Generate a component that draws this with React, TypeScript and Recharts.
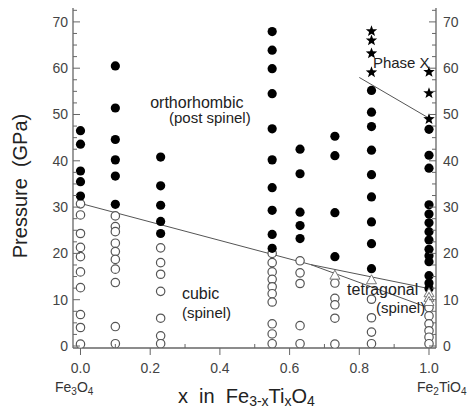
import { ScatterChart, Scatter, XAxis, YAxis, ReferenceLine } from "recharts"

const FONT = "Liberation Sans, Arial, Helvetica, sans-serif"

// composition columns (x in Fe3-xTixO4)
const columns = [0, 0.1, 0.23, 0.55, 0.63, 0.73, 0.835, 1.0]

// pressures (GPa) per column
const orthorhombic = [
  [46.5, 43.6, 37.8, 35.5, 32.4],
  [60.5, 51.4, 44.6, 40.2, 36.7, 30.6],
  [40.8, 34.6, 30.4, 26.9, 24.3],
  [67.9, 63.9, 59.9, 54.5, 46.9, 40.2, 34.2, 29.3, 24.1, 21.1],
  [42.5, 37.2, 28.9, 26.0, 23.2],
  [45.3, 41.1, 28.8, 19.3],
  [55.2, 50.5, 47.4, 42.3, 37.0, 32.2, 26.8, 22.1, 16.7],
  [46.8, 41.2, 38.4, 30.5, 28.5, 26.6, 24.7, 22.9, 20.9, 19.5, 18.2, 15.2, 13.6, 12.4],
]

const cubic = [
  [30.7, 28.3, 24.3, 21.3, 19.3, 16.0, 12.6, 6.8, 4.0, 0.4],
  [28.1, 25.8, 24.7, 22.2, 20.4, 18.7, 16.6, 13.7, 4.2, 0.5],
  [21.2, 18.0, 15.5, 11.8, 6.0, 2.2, 0.5],
  [20.0, 18.0, 16.0, 14.4, 12.8, 11.3, 9.5, 4.8, 2.6, 0.5],
  [18.4, 15.8, 13.5, 4.4, 0.5],
  [13.6, 10.3, 8.9, 6.0, 0.4],
  [10.1, 6.1, 3.0, 0.5],
  [8.3, 6.5, 4.8, 3.3, 1.9, 0.5],
]

const tetragonal = [[], [], [], [], [], [15.2], [14.2], [11.4, 10.4, 9.5]]

const phaseX = [[], [], [], [], [], [], [68.0, 66.0, 63.2, 59.1], [59.2, 54.6, 49.0]]

// phase boundaries [x, P]
const boundaryUpper = [[0, 30.8], [0.66, 17.6], [1.0, 12.4]]
const boundaryLower = [[0.66, 17.6], [1.0, 8.2]]
const boundaryPhaseX = [[0.8, 58.0], [1.0, 49.2]]

const annotations = [
  { x: 0.2, p: 51.4, text: "orthorhombic", size: 16 },
  { x: 0.254, p: 48.1, text: "(post spinel)", size: 15 },
  { x: 0.291, p: 10.2, text: "cubic", size: 16 },
  { x: 0.291, p: 6.0, text: "(spinel)", size: 15 },
  { x: 0.839, p: 60.0, text: "Phase X", size: 15 },
  { x: 0.765, p: 11.0, text: "tetragonal", size: 16 },
  { x: 0.848, p: 7.1, text: "(spinel)", size: 15 },
]

const xTicks = [0, 0.1, 0.2, 0.3, 0.4, 0.5, 0.6, 0.7, 0.8, 0.9, 1.0]
const yTicks = [
  0, 2.5, 5, 7.5, 10, 12.5, 15, 17.5, 20, 22.5, 25, 27.5, 30, 32.5, 35, 37.5,
  40, 42.5, 45, 47.5, 50, 52.5, 55, 57.5, 60, 62.5, 65, 67.5, 70, 72.5,
]

const toPoints = (cols: number[][]) =>
  cols.flatMap((ps, i) => ps.map((p) => ({ x: columns[i], p })))

const segs = (pts: number[][]) =>
  pts.slice(1).map((pt, i) => [
    { x: pts[i][0], y: pts[i][1] },
    { x: pt[0], y: pt[1] },
  ])

const AXIS = "#666"

function FilledDot(props: any) {
  return <circle cx={props.cx} cy={props.cy} r={4.6} fill="#000" />
}

function OpenDot(props: any) {
  return <circle cx={props.cx} cy={props.cy} r={4.2} fill="#fff" stroke="#555" strokeWidth={1.2} />
}

function Triangle(props: any) {
  const { cx, cy } = props
  return (
    <polygon
      points={`${cx},${cy - 5.5} ${cx - 5},${cy + 3.5} ${cx + 5},${cy + 3.5}`}
      fill="#fff"
      stroke="#777"
      strokeWidth={1}
    />
  )
}

function Star(props: any) {
  const { cx, cy } = props
  const pts: string[] = []
  for (let i = 0; i < 10; i++) {
    const r = i % 2 === 0 ? 6 : 2.5
    const a = -Math.PI / 2 + (i * Math.PI) / 5
    pts.push(`${cx + r * Math.cos(a)},${cy + r * Math.sin(a)}`)
  }
  return <polygon points={pts.join(" ")} fill="#000" />
}

function Note(props: any) {
  const d = props.payload || props
  return (
    <text x={props.cx} y={props.cy} fontSize={d.size} fill="#222" fontFamily={FONT}>
      {d.text}
    </text>
  )
}

function LeftTick(props: any) {
  const { x, y, payload } = props
  const major = payload.value % 10 === 0
  return (
    <g>
      <line x1={x} x2={x + (major ? 7 : 4)} y1={y} y2={y} stroke={AXIS} />
      {major && (
        <text x={x - 5} y={y + 5} textAnchor="end" fontSize={14} fill="#444" fontFamily={FONT}>
          {payload.value}
        </text>
      )}
    </g>
  )
}

function RightTick(props: any) {
  const { x, y, payload } = props
  const major = payload.value % 10 === 0
  return (
    <g>
      <line x1={x} x2={x - (major ? 7 : 4)} y1={y} y2={y} stroke={AXIS} />
      {major && (
        <text x={x + 7} y={y + 5} textAnchor="start" fontSize={14} fill="#444" fontFamily={FONT}>
          {payload.value}
        </text>
      )}
    </g>
  )
}

function BottomTick(props: any) {
  const { x, y, payload } = props
  const major = Math.round(payload.value * 10) % 2 === 0
  return (
    <g>
      <line x1={x} x2={x} y1={y} y2={major ? y + 7 : y - 4} stroke={AXIS} />
      {major && (
        <text x={x} y={y + 25} textAnchor="middle" fontSize={14} fill="#444" fontFamily={FONT}>
          {payload.value.toFixed(1)}
        </text>
      )}
    </g>
  )
}

export default function App() {
  return (
    <div style={{ position: "absolute", left: 0, top: 0, width: 471, height: 411, background: "#fff" }}>
      <ScatterChart width={471} height={411} margin={{ top: 8, right: 0, left: 33, bottom: 33 }}>
        <XAxis
          type="number"
          dataKey="x"
          domain={[-0.0215, 1.0201]}
          ticks={xTicks}
          interval={0}
          allowDataOverflow
          height={30}
          axisLine={{ stroke: AXIS, strokeWidth: 1.3 }}
          tickLine={false}
          tickSize={0}
          tickMargin={0}
          tick={<BottomTick />}
        />
        <YAxis
          yAxisId="l"
          type="number"
          dataKey="p"
          domain={[-0.43, 73]}
          ticks={yTicks}
          interval={0}
          allowDataOverflow
          width={40}
          axisLine={{ stroke: AXIS, strokeWidth: 1.3 }}
          tickLine={false}
          tickSize={0}
          tickMargin={0}
          tick={<LeftTick />}
        />
        <YAxis
          yAxisId="r"
          orientation="right"
          type="number"
          dataKey="p"
          domain={[-0.43, 73]}
          ticks={yTicks}
          interval={0}
          allowDataOverflow
          width={35}
          axisLine={{ stroke: AXIS, strokeWidth: 1.3 }}
          tickLine={false}
          tickSize={0}
          tickMargin={0}
          tick={<RightTick />}
        />
        {[...segs(boundaryUpper), ...segs(boundaryLower), ...segs(boundaryPhaseX)].map((s, i) => (
          <ReferenceLine key={i} yAxisId="l" segment={s} stroke="#555" strokeWidth={1} />
        ))}
        <Scatter yAxisId="l" data={toPoints(cubic)} shape={<OpenDot />} isAnimationActive={false} />
        <Scatter yAxisId="l" data={toPoints(orthorhombic)} shape={<FilledDot />} isAnimationActive={false} />
        <Scatter yAxisId="l" data={toPoints(tetragonal)} shape={<Triangle />} isAnimationActive={false} />
        <Scatter yAxisId="l" data={toPoints(phaseX)} shape={<Star />} isAnimationActive={false} />
        <Scatter yAxisId="l" data={annotations} shape={<Note />} isAnimationActive={false} />
      </ScatterChart>
      <svg
        width={471}
        height={411}
        style={{ position: "absolute", left: 0, top: 0, pointerEvents: "none" }}
        fontFamily={FONT}
      >
        <text
          x={27}
          y={186}
          transform="rotate(-90, 27, 186)"
          textAnchor="middle"
          fontSize={20}
          fill="#222"
          style={{ whiteSpace: "pre" }}
        >
          {"Pressure  (GPa)"}
        </text>
        <text x={178} y={403} fontSize={20} fill="#222" style={{ whiteSpace: "pre" }}>
          {"x  in  Fe"}
          <tspan fontSize={14} dy={3}>3-x</tspan>
          <tspan dy={-3}>Ti</tspan>
          <tspan fontSize={14} dy={3}>x</tspan>
          <tspan dy={-3}>O</tspan>
          <tspan fontSize={14} dy={3}>4</tspan>
        </text>
        <text x={55} y={392} fontSize={14} fill="#333">
          Fe<tspan fontSize={10} dy={3}>3</tspan>
          <tspan dy={-3}>O</tspan>
          <tspan fontSize={10} dy={3}>4</tspan>
        </text>
        <text x={417} y={392} fontSize={14} fill="#333">
          Fe<tspan fontSize={10} dy={3}>2</tspan>
          <tspan dy={-3}>TiO</tspan>
          <tspan fontSize={10} dy={3}>4</tspan>
        </text>
      </svg>
    </div>
  )
}
